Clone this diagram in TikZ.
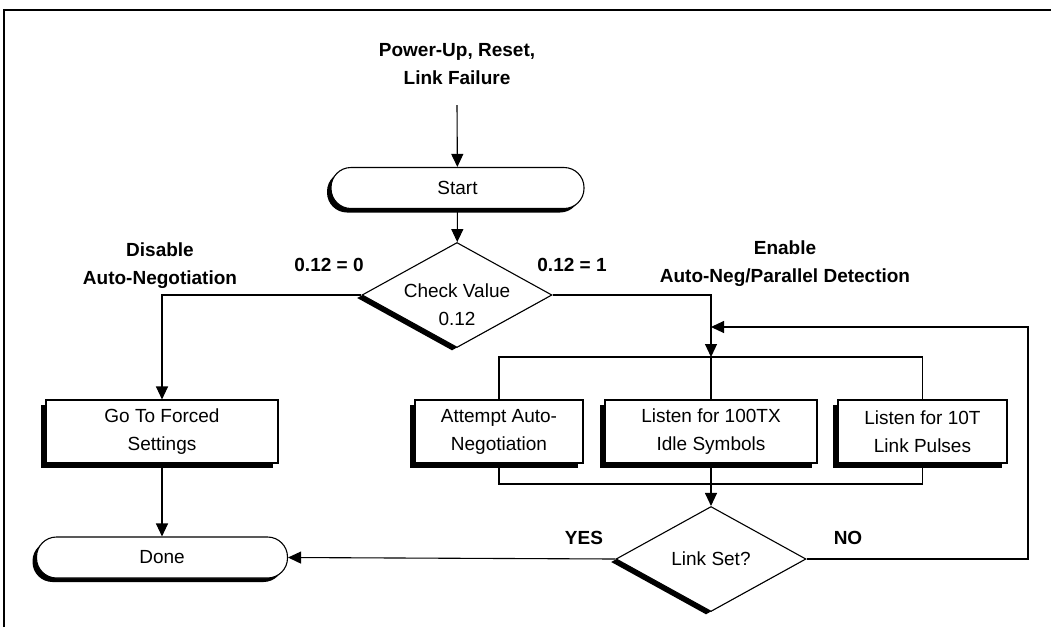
\documentclass[tikz,border=0pt]{standalone}
\usepackage{fontspec}
\setmainfont{Liberation Sans}
\usepackage{tikz}
\usetikzlibrary{shapes,arrows.meta,shadows}
\tikzset{>={Triangle[length=13pt,width=12pt]}}
\tikzset{
	box shadow/.style={general shadow={fill=black,shadow xshift=-5pt,shadow yshift=-5pt}},
	procbox/.style={draw,fill=white,line width=1.1pt,align=center,minimum height=63pt,inner sep=0pt,box shadow},
	termbox/.style={draw,fill=white,line width=1.1pt,rounded corners=20pt,minimum height=41pt,inner sep=0pt,
		general shadow={fill=black,shadow xshift=-4pt,shadow yshift=-4pt}},
	decbox/.style={diamond,draw,fill=white,line width=1.1pt,align=center,minimum width=190pt,minimum height=105pt,
		aspect=1.8,inner sep=0pt,general shadow={fill=black,shadow xshift=-5pt,shadow yshift=-3pt}},
	lbl/.style={font=\fontsize{19}{28}\selectfont\bfseries,align=center}
}

\begin{document}
\begin{tikzpicture}[x=1pt,y=-1pt,line width=1.1pt,font=\fontsize{19}{28}\selectfont]
	\useasboundingbox (0,0) rectangle (1051,627);
	% frame
	\draw[line width=2pt] (4,627) -- (4,10) -- (1051,10);
	% boxes
	\node[lbl] (trig) at (457,64) {Power-Up, Reset,\\Link Failure};
	\coordinate (trigend) at (457,105);
	\node[termbox,minimum width=253pt] (start) at (457.5,188) {Start};
	\node[decbox,label={[align=center,yshift=-10pt]center:Check Value\\0.12}] (check) at (457,295) {};
	\node[procbox,minimum width=232pt] (forced) at (162,431.5) {Go To Forced\\Settings};
	\node[procbox,minimum width=168pt] (attempt) at (499,431.5) {Attempt Auto-\\Negotiation};
	\node[procbox,minimum width=212pt] (idle) at (711,431.5) {Listen for 100TX\\Idle Symbols};
	\node[procbox,minimum width=169pt] (pulse) at (922.5,431.5) {Listen for 10T\\Link Pulses};
	\node[decbox] (link) at (711,559) {Link Set?};
	\node[termbox,minimum width=251pt] (done) at (162,557.5) {Done};
	% labels
	\node[lbl] (dis) at (160,266) {Disable\\Auto-Negotiation};
	\node[lbl] (ena) at (785,264) {Enable\\Auto-Neg/Parallel Detection};
	\node[lbl] (zero) at (329,265) {0.12 = 0};
	\node[lbl] (one) at (572,265) {0.12 = 1};
	\node[lbl] (yes) at (584,538) {YES};
	\node[lbl] (no) at (848,538) {NO};
	% connectors
	\coordinate (bt) at (711,357);
	\coordinate (bb) at (711,484);
	\coordinate (lp) at (711,327);
	\coordinate (rt) at (1028,327);
	\draw[->] (trigend) -- (start);
	\draw[->] (start) -- (check);
	\draw[->] (check.west) -| (forced.north);
	\draw[->] (check.east) -| (bt);
	\draw (attempt.north) |- (bt) -| (pulse.north);
	\draw (bt) -- (idle.north);
	\draw (attempt.south) |- (bb) -| (pulse.south);
	\draw[->] (idle.south) -- (link.north);
	\draw[->] (forced.south) -- (done.north);
	\draw[->] (link.west) -- (done.east);
	\draw[->] (link.east) -| (rt) -- (lp);
\end{tikzpicture}
\end{document}
